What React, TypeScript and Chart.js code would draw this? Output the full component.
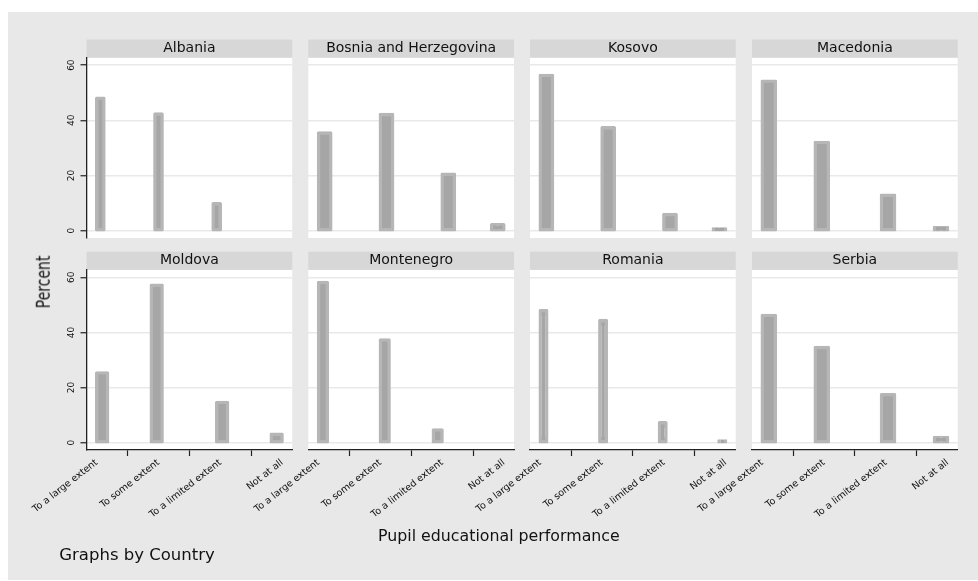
import React, { useEffect, useRef } from 'react';
import { Chart, registerables } from 'chart.js';

Chart.register(...registerables);

// ---------------- data ----------------
const countries = [
  'Albania',
  'Bosnia and Herzegovina',
  'Kosovo',
  'Macedonia',
  'Moldova',
  'Montenegro',
  'Romania',
  'Serbia',
];
const categories = ['To a large extent', 'To some extent', 'To a limited extent', 'Not at all'];

const albania = [48.0, 42.3, 9.7, null];
const bosnia = [35.4, 42.1, 20.4, 2.1];
const kosovo = [56.3, 37.3, 5.8, 0.6];
const macedonia = [54.2, 32.0, 12.8, 1.0];
const moldova = [25.3, 57.1, 14.6, 3.0];
const montenegro = [58.1, 37.3, 4.6, null];
const romania = [47.9, 44.3, 7.2, 0.6];
const serbia = [46.2, 34.5, 17.4, 1.9];

// number of histogram bins Stata used in each panel
const binCounts = [17, 15, 15, 14, 17, 14, 28, 14];
const yTicks = [0, 20, 40, 60];

const series = [albania, bosnia, kosovo, macedonia, moldova, montenegro, romania, serbia];

// ---------------- layout / style ----------------
const FONT = "'DejaVu Sans', sans-serif";
const W = 970;
const H = 568;
const colLeft = [78.5, 300.3, 522, 744];
const plotW = 205.7;
const rowHeaderTop = [27.5, 239.7];
const rowPadBottom = [342, 35];
const headerH = 18.2;
const yAxisW = 30;
const xAxisH = 95;
const X_MIN = 0.835;
const X_MAX = 4.163;
const Y_MIN = -2.7;
const Y_MAX = 62.7;

function histogramBars(values: (number | null)[], k: number) {
  const present = values.map((v, i) => (v === null ? -1 : i + 1)).filter((c) => c > 0);
  const lo = Math.min(...present);
  const hi = Math.max(...present);
  const w = (hi - lo) / k;
  const pts: { x: number; y: number }[] = [];
  values.forEach((v, i) => {
    if (v === null) return;
    const c = i + 1;
    const bin = Math.min(Math.floor((c - lo) / w + 1e-9), k - 1);
    pts.push({ x: lo + (bin + 0.5) * w, y: v });
  });
  return { pts, w };
}

const panelBg = {
  id: 'panelBg',
  beforeDraw(chart: any) {
    const { ctx, chartArea } = chart;
    ctx.save();
    ctx.fillStyle = '#ffffff';
    ctx.fillRect(chartArea.left, chartArea.top, chartArea.right - chartArea.left, chartArea.bottom - chartArea.top);
    const tb = chart.titleBlock;
    if (tb) {
      ctx.fillStyle = '#d7d7d7';
      ctx.fillRect(tb.left, tb.top, tb.right - tb.left, tb.bottom - tb.top);
    }
    ctx.restore();
  },
};

export default function App() {
  const refs = useRef<(HTMLCanvasElement | null)[]>([]);

  useEffect(() => {
    const charts: Chart[] = [];
    countries.forEach((country, idx) => {
      const canvas = refs.current[idx];
      if (!canvas) return;
      const col = idx % 4;
      const row = Math.floor(idx / 4);
      const isLeft = col === 0;
      const isBottom = row === 1;
      const { pts, w } = histogramBars(series[idx], binCounts[idx]);

      const cfg: any = {
        type: 'bar',
        data: {
          datasets: [
            {
              data: pts,
              backgroundColor: '#a6a6a6',
              borderColor: '#b6b6b6',
              borderWidth: 3.4,
              borderSkipped: false,
              inflateAmount: 1.7,
              borderRadius: 1.5,
              barThickness: 10,
            },
          ],
        },
        options: {
          animation: false,
          responsive: false,
          maintainAspectRatio: false,
          events: [],
          layout: {
            padding: {
              left: isLeft ? colLeft[col] - yAxisW : colLeft[col],
              right: W - (colLeft[col] + plotW),
              top: rowHeaderTop[row],
              bottom: rowPadBottom[row],
            },
          },
          plugins: {
            legend: { display: false },
            tooltip: { enabled: false },
            title: {
              display: true,
              text: country,
              fullSize: false,
              color: '#111111',
              padding: 0,
              font: { family: FONT, size: 14, weight: 'normal', lineHeight: headerH / 14 },
            },
          },
          scales: {
            x: {
              type: 'linear',
              offset: false,
              min: X_MIN,
              max: X_MAX,
              display: isBottom,
              afterBuildTicks: (s: any) => {
                s.ticks = categories.map((_, i) => ({ value: i + 1 }));
              },
              afterFit: (s: any) => {
                s.height = isBottom ? xAxisH : 0;
                s.paddingLeft = 0;
                s.paddingRight = 0;
              },
              grid: {
                display: true,
                drawOnChartArea: false,
                drawTicks: true,
                tickLength: 6,
                tickColor: '#222222',
                tickWidth: 1.2,
              },
              border: { display: true, color: '#222222', width: 1.3 },
              ticks: {
                autoSkip: false,
                minRotation: 38,
                maxRotation: 38,
                padding: 1,
                color: '#111111',
                font: { family: FONT, size: 9.5 },
                callback: (v: any) => categories[Math.round(Number(v)) - 1] ?? '',
              },
            },
            y: {
              type: 'linear',
              min: Y_MIN,
              max: Y_MAX,
              afterBuildTicks: (s: any) => {
                s.ticks = yTicks.map((v) => ({ value: v }));
              },
              afterFit: (s: any) => {
                s.width = isLeft ? yAxisW : 0;
                s.paddingTop = 0;
                s.paddingBottom = 0;
              },
              grid: {
                display: true,
                drawOnChartArea: true,
                color: '#e9e9e9',
                lineWidth: 1.5,
                drawTicks: isLeft,
                tickLength: 6,
                tickColor: '#222222',
                tickWidth: 1.2,
              },
              border: { display: isLeft, color: '#222222', width: 1.3 },
              ticks: {
                display: isLeft,
                minRotation: 90,
                maxRotation: 90,
                crossAlign: 'center',
                padding: 3,
                color: '#111111',
                font: { family: FONT, size: 9 },
              },
            },
          },
        },
        plugins: [panelBg],
      };

      const chart = new Chart(canvas, cfg);
      const xs: any = chart.scales.x;
      const px = Math.abs(xs.getPixelForValue(1 + w) - xs.getPixelForValue(1));
      (chart.data.datasets[0] as any).barThickness = px;
      chart.update();
      charts.push(chart);
    });
    return () => charts.forEach((c) => c.destroy());
  }, []);

  return (
    <div
      style={{
        position: 'absolute',
        left: 8,
        top: 12,
        width: W,
        height: H,
        background: '#e8e8e8',
        overflow: 'hidden',
        fontFamily: FONT,
        color: '#111111',
      }}
    >
      {countries.map((c, i) => (
        <canvas
          key={c}
          ref={(el) => {
            refs.current[i] = el;
          }}
          width={W}
          height={H}
          style={{ position: 'absolute', left: 0, top: 0, width: W, height: H }}
        />
      ))}
      <div
        style={{
          position: 'absolute',
          left: 34.8,
          top: 269.7,
          fontSize: 14,
          lineHeight: 1,
          whiteSpace: 'nowrap',
          transform: 'translate(-50%, -50%) rotate(-90deg) scaleY(1.4)',
        }}
      >
        Percent
      </div>
      <div
        style={{
          position: 'absolute',
          left: 370,
          top: 515.6,
          fontSize: 15.8,
          lineHeight: 1,
          whiteSpace: 'nowrap',
        }}
      >
        Pupil educational performance
      </div>
      <div
        style={{
          position: 'absolute',
          left: 51.3,
          top: 535,
          fontSize: 16.5,
          lineHeight: 1,
          whiteSpace: 'nowrap',
        }}
      >
        Graphs by Country
      </div>
    </div>
  );
}
